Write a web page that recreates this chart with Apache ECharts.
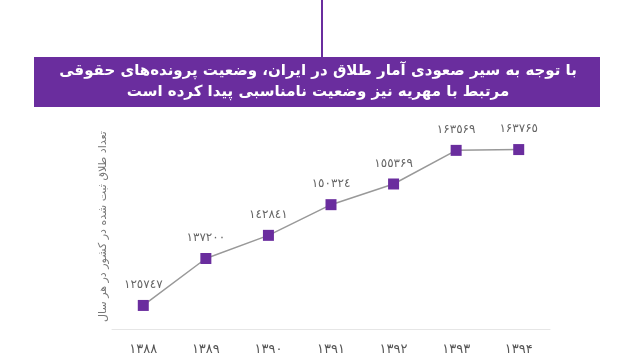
<!DOCTYPE html>
<html><head><meta charset="utf-8">
<script src="https://cdn.jsdelivr.net/npm/echarts@6/dist/echarts.min.js"></script>
<style>html,body{margin:0;padding:0;background:#fff}#c{width:640px;height:360px}</style>
</head><body><div id="c"></div>
<script>
const years = ['۱۳۸۸','۱۳۸۹','۱۳۹۰','۱۳۹۱','۱۳۹۲','۱۳۹۳','۱۳۹۴'];
const divorces = [125747, 137200, 142841, 150324, 155369, 163569, 163765];
const titleLines = ['با توجه به سیر صعودی آمار طلاق در ایران، وضعیت پرونده‌های حقوقی','مرتبط با مهریه نیز وضعیت نامناسبی پیدا کرده است'];
const yName = 'تعداد طلاق ثبت شده در کشور در هر سال';

const digits = ['۰','۱','۲','۳','٤','٥','۶','۷','۸','۹'];
const toFa = v => String(v).replace(/[0-9]/g, d => digits[+d]);
const purple = '#6a2d9e';
const chart = echarts.init(document.getElementById('c'));
chart.setOption({
  animation: false,
  grid: {left: 112, right: 90, top: 124, bottom: 31},
  graphic: [
    {type: 'rect', shape: {x: 321, y: 0, width: 2, height: 58}, style: {fill: purple}},
    {type: 'rect', shape: {x: 34, y: 57, width: 566, height: 50}, style: {fill: purple}},
    {type: 'text', x: 318, y: 82, style: {text: titleLines.join('\n'), fill: '#fff', font: 'bold 15px "DejaVu Sans", sans-serif', align: 'center', verticalAlign: 'middle', lineHeight: 21}}
  ],
  xAxis: {
    type: 'category', data: years, boundaryGap: true,
    axisLine: {lineStyle: {color: '#e6e6e6', width: 1}},
    axisTick: {show: false},
    axisLabel: {color: '#555', fontSize: 13, margin: 14, fontFamily: 'DejaVu Sans'}
  },
  yAxis: {
    type: 'value', min: 120000, max: 170000,
    axisLine: {show: false}, axisTick: {show: false}, axisLabel: {show: false}, splitLine: {show: false},
    name: yName, nameLocation: 'middle', nameRotate: 90, nameGap: 3,
    nameTextStyle: {color: '#777', fontSize: 11, fontFamily: 'DejaVu Sans'}
  },
  series: [{
    type: 'line', data: divorces,
    symbol: 'rect', symbolSize: 11,
    itemStyle: {color: purple},
    lineStyle: {color: '#999', width: 1.5},
    label: {show: true, position: 'top', distance: 9, color: '#666', fontSize: 12, fontFamily: 'DejaVu Sans', formatter: p => toFa(p.value)}
  }]
});
</script></body></html>
